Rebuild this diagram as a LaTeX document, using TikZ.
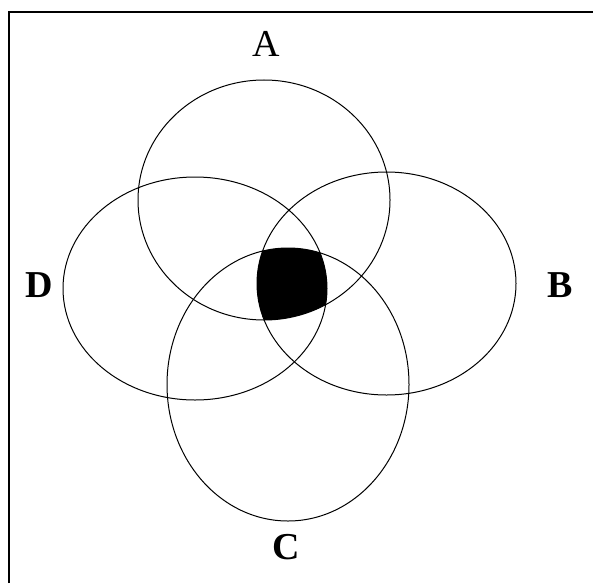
\documentclass[tikz,border=0pt]{standalone}
\usepackage{fontspec}
\setmainfont{Liberation Serif}
\begin{document}
\begin{tikzpicture}[x=1pt,y=-1pt,
  ring/.style={draw=black,line width=1pt},
  lbl/.style={font=\fontsize{38}{40}\selectfont\bfseries,inner sep=0pt},
  lblr/.style={font=\fontsize{38}{40}\selectfont,inner sep=0pt}]
\useasboundingbox (0,0) rectangle (593,583);
\fill[white] (0,0) rectangle (593,583);
\draw[line width=2.5pt] (9,583) -- (9,12) -- (593,12);
% shaded intersection
\begin{scope}
  \clip (264,200) ellipse [x radius=126, y radius=120];
  \clip (386.5,283.5) ellipse [x radius=129.5, y radius=111.5];
  \clip (288,384.5) ellipse [x radius=121, y radius=136.5];
  \fill[black] (195,288.5) ellipse [x radius=132, y radius=111.5];
\end{scope}
\draw[ring] (264,200) ellipse [x radius=126, y radius=120];
\draw[ring] (386.5,283.5) ellipse [x radius=129.5, y radius=111.5];
\draw[ring] (288,384.5) ellipse [x radius=121, y radius=136.5];
\draw[ring] (195,288.5) ellipse [x radius=132, y radius=111.5];
\node[lblr] (la) at (266,44) {A};
\node[lbl] (lb) at (560,285) {B};
\node[lbl] (lc) at (286,547) {C};
\node[lbl] (ld) at (39,285) {D};
\end{tikzpicture}
\end{document}
